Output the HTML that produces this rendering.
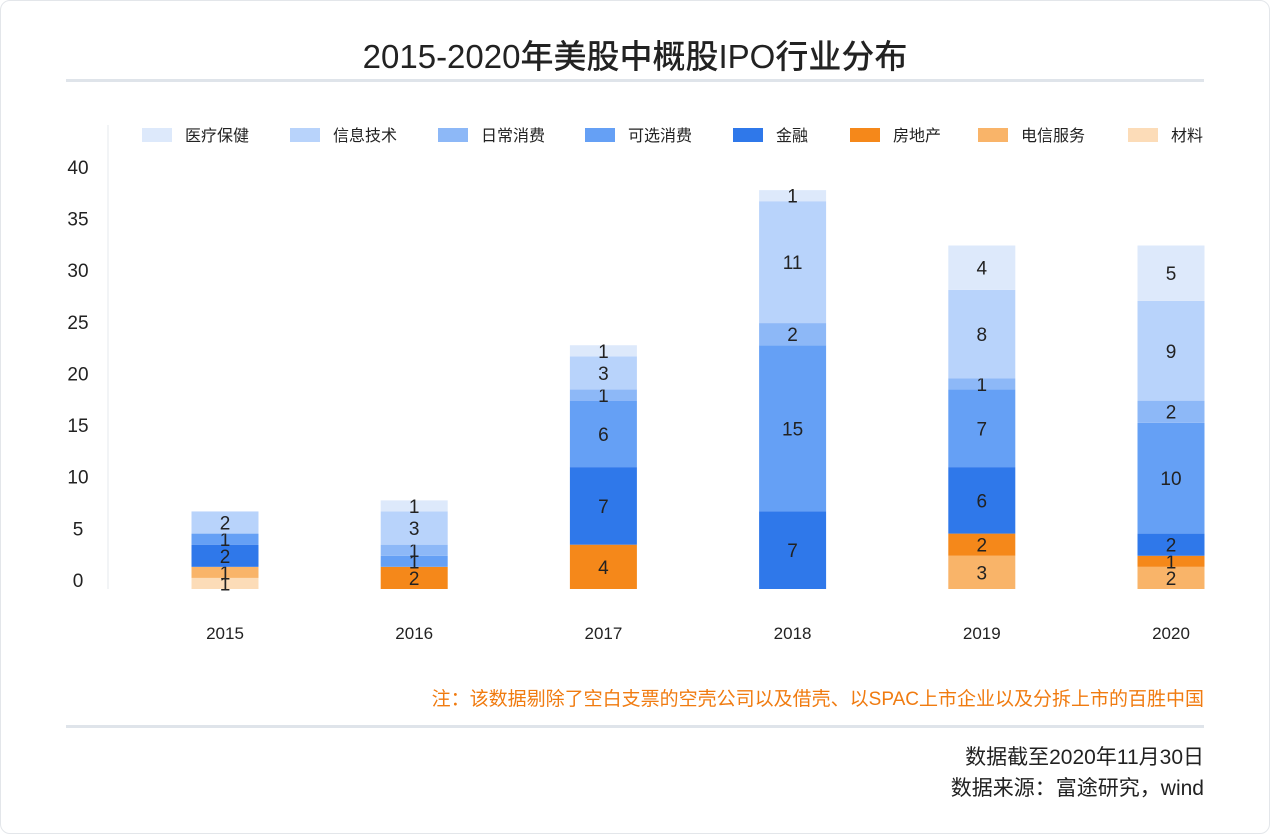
<!DOCTYPE html>
<html><head><meta charset="utf-8"><style>
body{margin:0;background:#fff;font-family:"Liberation Sans","Noto Sans CJK SC",sans-serif;}
#card{position:absolute;left:0;top:0;width:1268px;height:832px;border:1px solid #e3e6ea;border-radius:10px;}
.t{position:absolute;white-space:nowrap;color:#222;}
</style></head><body>
<div id="card"></div>
<div class="t" style="left:0;width:1270px;text-align:center;top:30px;font-size:33px;font-weight:500;color:#222">2015-2020年美股中概股IPO行业分布</div>
<div style="position:absolute;left:66px;top:79px;width:1138px;height:3px;background:#dfe4ea"></div>
<svg id="chart" width="1270" height="834" style="position:absolute;left:0;top:0"></svg>
<div class="t" style="right:66px;top:684px;font-size:19px;color:#f07b10">注：该数据剔除了空白支票的空壳公司以及借壳、以SPAC上市企业以及分拆上市的百胜中国</div>
<div style="position:absolute;left:66px;top:725px;width:1138px;height:3px;background:#dfe4ea"></div>
<div class="t" style="right:66px;top:741px;font-size:21px">数据截至2020年11月30日</div>
<div class="t" style="right:66px;top:772px;font-size:21px">数据来源：富途研究，wind</div>
<script>
const years=['2015','2016','2017','2018','2019','2020'];
const seriesNames=['材料','电信服务','房地产','金融','可选消费','日常消费','信息技术','医疗保健'];
const s材料=[1,0,0,0,0,0];
const s电信=[1,0,0,0,3,2];
const s房地产=[0,2,4,0,2,1];
const s金融=[2,0,7,7,6,2];
const s可选=[1,1,6,15,7,10];
const s日常=[0,1,1,2,1,2];
const s信息=[2,3,3,11,8,9];
const s医疗=[0,1,1,1,4,5];
const yTicks=[0,5,10,15,20,25,30,35,40];
const series=[s材料,s电信,s房地产,s金融,s可选,s日常,s信息,s医疗];
const colors=['#fcdcb8','#f9b469','#f5881a','#2f78ea','#65a0f5','#8db8f7','#b8d3fb','#dde9fb'];
const NS='http://www.w3.org/2000/svg';
const svg=document.getElementById('chart');
const y0=589,pu=11.08;
const yPos=v=>y0-v*pu;
const xPos=i=>225+i*189.2;
const bw=67;
function mk(t,a){const e=document.createElementNS(NS,t);for(const k in a)e.setAttribute(k,a[k]);svg.appendChild(e);return e;}
const ax=mk('line',{x1:108,y1:125,x2:108,y2:589,stroke:'#e6e9ed','stroke-width':1});


yTicks.forEach((v,i)=>{const t=mk('text',{x:78,y:587-v*10.33,'font-size':19,fill:'#222','text-anchor':'middle','font-family':'Liberation Sans, sans-serif'});t.textContent=v;

});
years.forEach((yr,i)=>{let cum=0;
series.forEach((s,k)=>{const v=s[i];if(!v)return;
const r=mk('rect',{x:xPos(i)-bw/2,y:yPos(cum+v),width:bw,height:v*pu,fill:colors[k]});


const t=mk('text',{x:xPos(i),y:yPos(cum+v/2)+7,'font-size':19,fill:'#222','text-anchor':'middle','font-family':'Liberation Sans, sans-serif'});t.textContent=v;


cum+=v;});
const xl=mk('text',{x:xPos(i),y:639,'font-size':17,fill:'#222','text-anchor':'middle','font-family':'Liberation Sans, sans-serif'});xl.textContent=yr;

});
const legOrder=[7,6,5,4,3,2,1,0];
const legX=[142,290,438,585,733,850,978,1128];
legOrder.forEach((k,j)=>{
const r=mk('rect',{x:legX[j],y:128,width:30,height:14,fill:colors[k]});


const t=mk('text',{x:legX[j]+43,y:141,'font-size':16,fill:'#222','font-family':'Liberation Sans, Noto Sans CJK SC, sans-serif'});t.textContent=seriesNames[k];

});
</script>
</body></html>
